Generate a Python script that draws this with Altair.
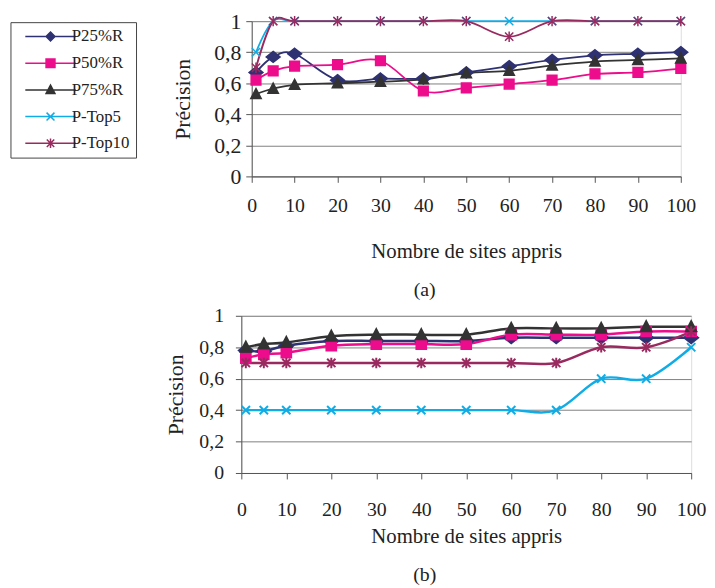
import altair as alt
import pandas as pd

# ---------------- data ----------------
x_sites = [1, 5, 10, 20, 30, 40, 50, 60, 70, 80, 90, 100]
series_names = ["P25%R", "P50%R", "P75%R", "P-Top5", "P-Top10"]
series_colors = ["#2E3172", "#EC0C8C", "#333333", "#10ACE6", "#992A5F"]

# panel (a)
a_p25 = [0.67, 0.77, 0.79, 0.62, 0.63, 0.63, 0.67, 0.71, 0.75, 0.78, 0.79, 0.80]
a_p50 = [0.62, 0.68, 0.71, 0.72, 0.745, 0.55, 0.57, 0.595, 0.62, 0.66, 0.67, 0.695]
a_p75 = [0.53, 0.565, 0.59, 0.60, 0.61, 0.625, 0.665, 0.68, 0.715, 0.74, 0.75, 0.76]
a_top5 = [0.8, 1, 1, 1, 1, 1, 1, 1, 1, 1, 1, 1]
a_top10 = [0.7, 1, 1, 1, 1, 1, 1, 0.9, 1, 1, 1, 1]

# panel (b)
b_p25 = [0.78, 0.775, 0.81, 0.84, 0.84, 0.84, 0.84, 0.86, 0.86, 0.86, 0.86, 0.86]
b_p50 = [0.73, 0.755, 0.765, 0.81, 0.82, 0.82, 0.82, 0.88, 0.88, 0.88, 0.90, 0.90]
b_p75 = [0.80, 0.82, 0.83, 0.87, 0.88, 0.88, 0.88, 0.92, 0.92, 0.92, 0.93, 0.93]
b_top5 = [0.4, 0.4, 0.4, 0.4, 0.4, 0.4, 0.4, 0.4, 0.4, 0.6, 0.6, 0.8]
b_top10 = [0.7, 0.7, 0.7, 0.7, 0.7, 0.7, 0.7, 0.7, 0.7, 0.8, 0.8, 0.9]

y_ticks = [0, 0.2, 0.4, 0.6, 0.8, 1]
x_ticks = [0, 10, 20, 30, 40, 50, 60, 70, 80, 90, 100]

# marker glyphs (unit box) and legend glyphs (line + marker)
marker_paths = [
    "M0,-0.8L1,0L0,0.8L-1,0Z",
    "M-0.7,-0.7L0.7,-0.7L0.7,0.7L-0.7,0.7Z",
    "M0,-0.8L0.75,0.65L-0.75,0.65Z",
    "M-0.6,-0.6L0.6,0.6M-0.6,0.6L0.6,-0.6",
    "M-0.6,-0.6L0.6,0.6M-0.6,0.6L0.6,-0.6M0,-0.75L0,0.75",
]
legend_paths = [
    "M-5.1,0L5.1,0M0,-0.9L0.9,0L0,0.9L-0.9,0Z",
    "M-5.1,0L5.1,0M-0.9,-0.85L0.9,-0.85L0.9,0.85L-0.9,0.85Z",
    "M-5.1,0L5.1,0M0,-0.95L0.9,0.75L-0.9,0.75Z",
    "M-5.1,0L5.1,0M-0.8,-0.8L0.8,0.8M-0.8,0.8L0.8,-0.8",
    "M-5.1,0L5.1,0M-0.75,-0.75L0.75,0.75M-0.75,0.75L0.75,-0.75M0,-0.95L0,0.95",
]

FONT = "Liberation Serif"


def long_df(cols):
    rows = []
    for name, vals in zip(series_names, cols):
        for x, v in zip(x_sites, vals):
            rows.append({"sites": x, "precision": v, "series": name})
    return pd.DataFrame(rows)


df_a = long_df([a_p25, a_p50, a_p75, a_top5, a_top10])
df_b = long_df([b_p25, b_p50, b_p75, b_top5, b_top10])


def panel(df, w, h, ylab_size, ylab_pad, ytitle_x, xlab_pad, xtitle_y,
          line_w, pt_stroke, caption, cap_offset, with_legend):
    x_enc = alt.X(
        "sites:Q",
        scale=alt.Scale(domain=[0, 100], nice=False),
        axis=alt.Axis(
            values=x_ticks, grid=False, tickSize=6, tickColor="#555555",
            domainColor="#555555", labelPadding=xlab_pad, labelBaseline="middle",
            labelFontSize=20, labelFont=FONT, labelColor="#222222",
            labelFlush=False, labelOverlap=False,
            title="Nombre de sites appris", titleX=w / 2, titleY=xtitle_y,
            titleBaseline="middle", titleFontSize=21, titleFont=FONT,
            titleFontWeight="normal", titleColor="#222222",
        ),
    )
    y_enc = alt.Y(
        "precision:Q",
        scale=alt.Scale(domain=[0, 1], nice=False, zero=False),
        axis=alt.Axis(
            values=y_ticks, tickCount=6, grid=True, gridColor="#808080", gridWidth=1,
            tickSize=6, tickColor="#555555", domainColor="#555555",
            labelPadding=ylab_pad, labelFontSize=ylab_size, labelFont=FONT,
            labelColor="#222222", labelFlush=False, labelOverlap=False,
            labelExpr="replace(format(datum.value, '.1~f'), '.', ',')",
            title="Précision", titleX=ytitle_x, titleY=h / 2,
            titleBaseline="middle", titleFontSize=22, titleFont=FONT,
            titleFontWeight="normal", titleColor="#222222",
        ),
    )
    base = alt.Chart(df)
    lines = base.mark_line(interpolate="cardinal", strokeWidth=line_w, clip=False).encode(
        x=x_enc, y=y_enc,
        color=alt.Color("series:N", scale=alt.Scale(domain=series_names, range=series_colors), legend=None),
        order=alt.Order("sites:Q"),
    )
    pts = base.mark_point(filled=True, opacity=1, size=196, strokeWidth=pt_stroke, clip=False).encode(
        x=x_enc, y=y_enc,
        fill=alt.Fill("series:N", scale=alt.Scale(domain=series_names, range=series_colors), legend=None),
        stroke=alt.Stroke("series:N", scale=alt.Scale(domain=series_names, range=series_colors), legend=None),
        shape=alt.Shape("series:N", scale=alt.Scale(domain=series_names, range=marker_paths), legend=None),
    )
    layers = [lines, pts]
    if with_legend:
        leg = alt.Legend(
            title=None, orient="none", legendX=-244, legendY=1, direction="vertical",
            padding=6, rowPadding=9, symbolOffset=26, labelOffset=13,
            labelFont=FONT, labelFontSize=17, labelColor="#222222",
            strokeColor="#444444", fillColor="white", cornerRadius=0,
            symbolSize=100, symbolStrokeWidth=1.5, symbolOpacity=1,
        )
        keyed = base.transform_filter("false").transform_calculate(key="datum.series").mark_point(
            filled=True, opacity=1, size=100, strokeWidth=1.5
        ).encode(
            x=x_enc, y=y_enc,
            fill=alt.Fill("key:N", scale=alt.Scale(domain=series_names, range=series_colors), legend=leg),
            stroke=alt.Stroke("key:N", scale=alt.Scale(domain=series_names, range=series_colors), legend=leg),
            shape=alt.Shape("key:N", scale=alt.Scale(domain=series_names, range=legend_paths), legend=leg),
        )
        layers.append(keyed)
    ch = alt.layer(*layers).resolve_scale(
        color="independent", fill="independent", stroke="independent", shape="independent"
    ).properties(
        width=w, height=h,
        title=alt.Title(caption, orient="bottom", anchor="middle", dx=-42, offset=cap_offset,
                        font=FONT, fontSize=20, fontWeight="normal", color="#222222"),
    )
    return ch


top = panel(df_a, 434, 157, 22, 5, -70, 24, 76, 1.8, 1.5, "(a)", 19, True)
bottom = panel(df_b, 455, 159, 20, 12, -66, 31, 64, 2.5, 2, "(b)", 19, False)

chart = alt.vconcat(top, bottom, spacing=141, bounds="flush", center=True).resolve_scale(
    color="independent", fill="independent", stroke="independent", shape="independent"
).properties(
    padding={"left": 1, "top": -2, "right": 0, "bottom": 0},
    background="white",
).configure_view(
    stroke="#a8a0a0", strokeWidth=1.5
).configure(font=FONT)

chart.save("out.html", embed_options={"renderer": "svg", "actions": False})
